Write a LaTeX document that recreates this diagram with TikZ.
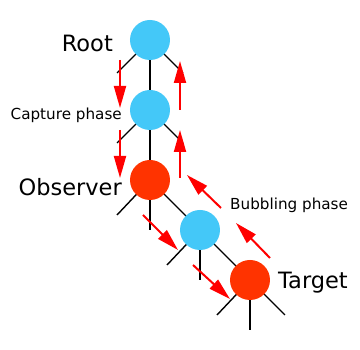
\documentclass[tikz,border=0pt]{standalone}
\usepackage{fontspec}
\setmainfont{DejaVu Sans}
\usetikzlibrary{arrows.meta}
\definecolor{nblue}{HTML}{44C8F8}
\definecolor{nred}{HTML}{FF3300}
\begin{document}
\begin{tikzpicture}[x=1pt,y=-1pt,
  blue node/.style={circle,fill=nblue,minimum size=40pt,inner sep=0pt},
  red node/.style={circle,fill=nred,minimum size=40pt,inner sep=0pt},
  branch/.style={line width=1.4pt,black},
  flow/.style={line width=2pt,red,-{Triangle[length=22pt,width=12pt]}},
  big label/.style={font=\fontsize{22.5}{26}\selectfont,inner sep=0pt},
  small label/.style={font=\fontsize{15.2}{18}\selectfont,inner sep=0pt}]
\useasboundingbox[fill=white] (0,0) rectangle (360,350);
% coordinates for branch ends
\coordinate (rl) at (117,73);
\coordinate (rr) at (183,73);
\coordinate (al) at (117,143);
\coordinate (ar) at (183,143);
\coordinate (ol) at (117,215);
\coordinate (ob) at (150,230);
\coordinate (bl) at (167,265);
\coordinate (bb) at (200,280);
\coordinate (tl) at (217,315);
\coordinate (tb) at (250,330);
\coordinate (tr) at (285,315);
% branches
\draw[branch] (150,40) -- (rl);
\draw[branch] (150,40) -- (rr);
\draw[branch] (150,40) -- (150,110);
\draw[branch] (150,110) -- (al);
\draw[branch] (150,110) -- (ar);
\draw[branch] (150,110) -- (150,180);
\draw[branch] (150,180) -- (ol);
\draw[branch] (150,180) -- (ob);
\draw[branch] (150,180) -- (200,230);
\draw[branch] (200,230) -- (bl);
\draw[branch] (200,230) -- (bb);
\draw[branch] (200,230) -- (250,280);
\draw[branch] (250,280) -- (tl);
\draw[branch] (250,280) -- (tb);
\draw[branch] (250,280) -- (tr);
% nodes
\node[blue node] (root) at (150,40) {};
\node[blue node] (mid) at (150,110) {};
\node[red node] (obs) at (150,180) {};
\node[blue node] (low) at (200,230) {};
\node[red node] (tgt) at (250,280) {};
% labels
\node[big label,anchor=east] (lroot) at (113,43) {Root};
\node[small label,anchor=east] (lcap) at (122,115) {Capture phase};
\node[big label,anchor=east] (lobs) at (122,187) {Observer};
\node[small label,anchor=west] (lbub) at (230,205) {Bubbling phase};
\node[big label,anchor=west] (ltgt) at (278,283) {Target};
% capture arrows
\coordinate (c1s) at (120,60);  \coordinate (c1e) at (120,108);
\coordinate (c2s) at (120,130); \coordinate (c2e) at (120,178);
\coordinate (c3s) at (143,215); \coordinate (c3e) at (178,250);
\coordinate (c4s) at (193,265); \coordinate (c4e) at (230,299);
\draw[flow] (c1s) -- (c1e);
\draw[flow] (c2s) -- (c2e);
\draw[flow] (c3s) -- (c3e);
\draw[flow] (c4s) -- (c4e);
% bubbling arrows
\coordinate (b1s) at (180,110); \coordinate (b1e) at (180,61);
\coordinate (b2s) at (180,178); \coordinate (b2e) at (180,130);
\coordinate (b3s) at (221,208); \coordinate (b3e) at (187,175);
\coordinate (b4s) at (270,258); \coordinate (b4e) at (236,223);
\draw[flow] (b1s) -- (b1e);
\draw[flow] (b2s) -- (b2e);
\draw[flow] (b3s) -- (b3e);
\draw[flow] (b4s) -- (b4e);
\end{tikzpicture}
\end{document}
